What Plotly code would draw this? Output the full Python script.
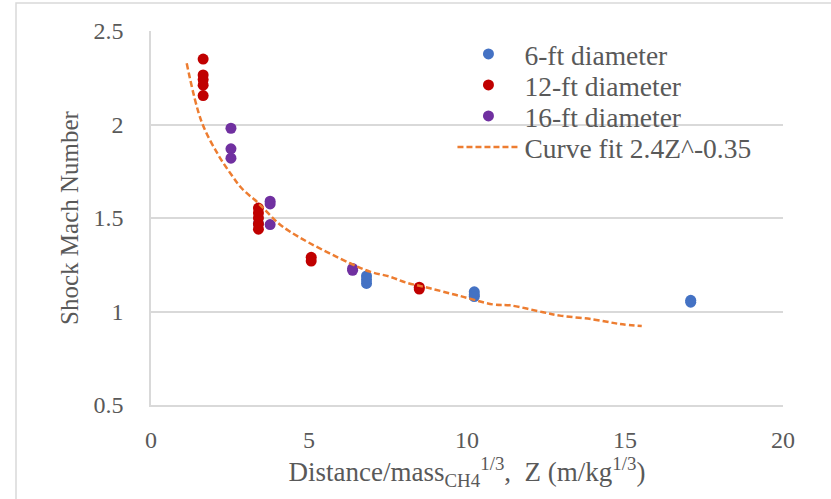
import plotly.graph_objects as go

# Scaled distance Z (m/kg^1/3) and shock Mach number for each tank size
z_6ft = [3.4, 6.82, 6.82, 6.82, 10.23, 10.23, 10.23, 17.08, 17.08]
m_6ft = [1.47, 1.19, 1.17, 1.15, 1.105, 1.09, 1.08, 1.06, 1.05]

z_12ft = [1.65, 1.65, 1.65, 1.65, 1.65, 3.4, 3.4, 3.4, 3.4, 3.4, 5.07, 5.07, 8.49, 8.49]
m_12ft = [2.35, 2.265, 2.24, 2.21, 2.155, 1.553, 1.527, 1.50, 1.468, 1.44, 1.29, 1.27, 1.13, 1.12]

z_16ft = [2.53, 2.53, 2.53, 3.77, 3.77, 3.77, 6.38, 6.38]
m_16ft = [1.98, 1.87, 1.82, 1.59, 1.575, 1.465, 1.23, 1.22]

# Power-law fit M = 2.4 Z^-0.35, sampled along the curve
z_fit = [1.13, 1.60, 2.13, 2.55, 2.87, 3.40, 4.03, 4.40, 5.03, 6.30, 6.93, 7.56, 8.09,
         8.83, 9.78, 10.82, 11.36, 12.41, 12.94, 13.99, 14.84, 15.53]
m_fit = [2.327, 2.015, 1.837, 1.73, 1.659, 1.579, 1.472, 1.427, 1.365, 1.258, 1.213, 1.186,
         1.154, 1.124, 1.083, 1.038, 1.033, 0.996, 0.978, 0.958, 0.933, 0.922]

x_ticks = [0, 5, 10, 15, 20]
y_ticks = [0.5, 1, 1.5, 2, 2.5]

FONT = "Liberation Serif, Times New Roman, serif"
TEXT = "#595959"
GRID = "#D9D9D9"

fig = go.Figure()
marker_size = 11
fig.add_trace(go.Scatter(x=z_6ft, y=m_6ft, mode="markers", name="6-ft diameter",
                         legend="legend",
                         marker=dict(color="#4472C4", size=marker_size)))
fig.add_trace(go.Scatter(x=z_12ft, y=m_12ft, mode="markers", name="12-ft diameter",
                         legend="legend2",
                         marker=dict(color="#C00000", size=marker_size)))
fig.add_trace(go.Scatter(x=z_16ft, y=m_16ft, mode="markers", name="16-ft diameter",
                         legend="legend3",
                         marker=dict(color="#7030A0", size=marker_size)))
fig.add_trace(go.Scatter(x=z_fit, y=m_fit, mode="lines", name="Curve fit 2.4Z^-0.35",
                         legend="legend4",
                         line=dict(color="#ED7D31", width=2.5, dash="6px,3px", shape="spline")))

# one legend box per entry so the rows can sit closer than the default spacing
plot_top, plot_h = 31, 374
row_centres = [54, 85, 116, 147]


def legend_box(row_px):
    return dict(x=0.477, y=(plot_top + plot_h - row_px) / plot_h, xanchor="left", yanchor="middle",
                bgcolor="rgba(0,0,0,0)", font=dict(size=27.5, color=TEXT, family=FONT),
                itemwidth=62)


fig.update_layout(
    width=831, height=499,
    margin=dict(l=151, r=48, t=31, b=94),
    paper_bgcolor="white", plot_bgcolor="white",
    font=dict(family=FONT, color=TEXT, size=24),
    showlegend=True,
    legend=legend_box(row_centres[0]),
    legend2=legend_box(row_centres[1]),
    legend3=legend_box(row_centres[2]),
    legend4=legend_box(row_centres[3]),
    xaxis=dict(range=[0, 20], tickvals=x_ticks, showgrid=False, zeroline=False,
               showline=True, linecolor=GRID, linewidth=1.5, ticks="",
               ticklabelstandoff=12, tickfont=dict(size=24, color=TEXT),
               title=dict(text="Distance/mass<sub>CH4</sub><sup>1/3</sup>,  Z (m/kg<sup>1/3</sup>)",
                          font=dict(size=27, color=TEXT), standoff=0)),
    yaxis=dict(range=[0.5, 2.5], tickvals=y_ticks, showgrid=True, gridcolor=GRID, gridwidth=1.5,
               zeroline=False, showline=True, linecolor=GRID, linewidth=1.5, ticks="",
               ticklabelstandoff=21,
               tickfont=dict(size=24, color=TEXT),
               title=dict(text="Shock Mach Number", font=dict(size=25, color=TEXT), standoff=8)),
    shapes=[
        # outer chart-area border (left and top edges fall inside the canvas)
        dict(type="path", xref="paper", yref="paper",
             path="M -0.2136,-0.5 L -0.2136,1.0749 L 1.2,1.0749",
             line=dict(color=GRID, width=1.5), layer="below"),
    ],
)

fig.write_html("out.html")
